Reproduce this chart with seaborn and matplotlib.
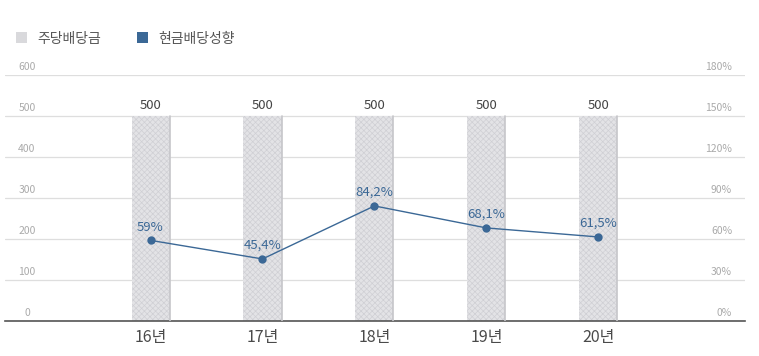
import pandas as pd
import matplotlib.pyplot as plt
import matplotlib.transforms as mtransforms
from matplotlib.patches import Patch
import seaborn as sns

# 데이터
years = ['16년', '17년', '18년', '19년', '20년']
dividend = [500, 500, 500, 500, 500]          # 주당배당금
payout = [59.0, 45.4, 84.2, 68.1, 61.5]        # 현금배당성향 (%)
payout_labels = ['59%', '45,4%', '84,2%', '68,1%', '61,5%']
left_ticks = [0, 100, 200, 300, 400, 500, 600]
right_ticks = [0, 30, 60, 90, 120, 150, 180]

sns.set_style('white')
plt.rcParams['font.family'] = ['Noto Sans CJK KR', 'DejaVu Sans']
plt.rcParams['hatch.color'] = '#cfcfd4'
plt.rcParams['hatch.linewidth'] = 0.5

df = pd.DataFrame({'year': years, 'dividend': dividend, 'payout': payout})

bar_col = '#e3e3e6'
line_col = '#3b6896'
grid_col = '#dedede'

fig = plt.figure(figsize=(7.59, 3.56), dpi=100)
ax = fig.add_axes([5 / 759, 35 / 356, 740 / 759, 246 / 356])

# 막대
sns.barplot(data=df, x='year', y='dividend', ax=ax, color=bar_col,
            width=0.34, saturation=1, zorder=2)
for p in ax.patches:
    p.set_hatch('xxxxxx')
    p.set_edgecolor('#cfcfd4')
    p.set_linewidth(0)
    x0 = p.get_x() + p.get_width()
    ax.plot([x0, x0], [0, p.get_height()], color='#c6c6ca', lw=1.2, zorder=3)
    ax.text(p.get_x() + p.get_width() / 2, p.get_height() + 10, f'{int(p.get_height())}',
            ha='center', va='bottom', fontsize=9.5, color='#444444', zorder=4)

ax.set_ylim(0, 600)
ax.set_yticks(left_ticks)
ax.set_yticklabels([])
ax.yaxis.grid(True, color=grid_col, lw=0.9)
ax.set_axisbelow(True)
ax.tick_params(axis='both', length=0)
ax.tick_params(axis='x', pad=6, labelsize=11.5, labelcolor='#4a4a4a')
ax.set_xlabel('')
ax.set_ylabel('')
for s in ['top', 'left', 'right']:
    ax.spines[s].set_visible(False)
ax.spines['bottom'].set_color('#555555')
ax.spines['bottom'].set_linewidth(1.2)

trans_l = mtransforms.blended_transform_factory(ax.transAxes, ax.transData)
for t in left_ticks:
    ax.text(22 / 740, t + 20, str(t), transform=trans_l, ha='center', va='center',
            fontsize=7.5, color='#aaaaaa')

# 꺾은선 (오른쪽 축)
ax2 = ax.twinx()
sns.lineplot(x=range(len(years)), y=payout, ax=ax2, color=line_col, lw=1,
             marker='o', markersize=6, markeredgewidth=0, zorder=5)
ax2.set_ylim(0, 180)
ax2.set_yticks(right_ticks)
ax2.set_yticklabels([])
ax2.tick_params(length=0)
for s in ['top', 'left', 'right', 'bottom']:
    ax2.spines[s].set_visible(False)
trans_r = mtransforms.blended_transform_factory(ax2.transAxes, ax2.transData)
for t in right_ticks:
    ax2.text(727 / 740, t + 6, f'{t}%', transform=trans_r, ha='right', va='center',
             fontsize=7.5, color='#aaaaaa')
for i, (v, lab) in enumerate(zip(payout, payout_labels)):
    ax2.text(i, v + 5, lab, ha='center', va='bottom', fontsize=9.5, color=line_col)

ax.set_xlim(-1.3, 4 + 1.31)

# 범례
handles = [Patch(facecolor='#d9d9dc', edgecolor='none', label='주당배당금'),
           Patch(facecolor=line_col, edgecolor='none', label='현금배당성향')]
fig.legend(handles=handles, loc='upper left', bbox_to_anchor=(3 / 759, 1 - 19 / 356),
           ncol=2, frameon=False, fontsize=10, handlelength=0.8, handleheight=0.8,
           handletextpad=0.75, columnspacing=2.6, labelcolor='#555555')

fig.savefig('out.png', dpi=100)
